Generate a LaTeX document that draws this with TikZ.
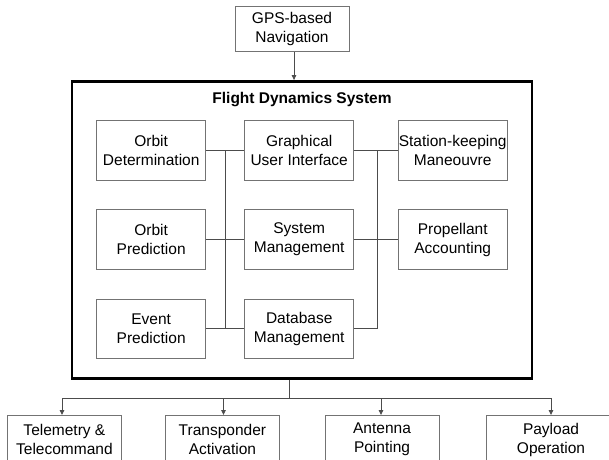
\documentclass[tikz,border=0pt]{standalone}
\usepackage{fontspec}
\setmainfont{Liberation Sans}
\usetikzlibrary{arrows.meta}
\begin{document}
\begin{tikzpicture}[x=1pt,y=-1pt,
  box/.style={draw=black!55,line width=0.9pt,fill=white,minimum width=109pt,minimum height=59.5pt,inner sep=0pt,align=center,font=\fontsize{15.5}{19}\selectfont},
  lowbox/.style={box,minimum width=114pt,minimum height=48pt},
  link/.style={draw=black!70,line width=0.9pt},
  arr/.style={link,-{Triangle[length=5pt,width=4.5pt]}}]
\useasboundingbox (0,0) rectangle (609,459);
% GPS
\node[box,minimum width=114pt,minimum height=45pt] (gps) at (292,29.3) {GPS-based\\Navigation};
% big box
\node[draw=black,line width=2.4pt,minimum width=460pt,minimum height=297pt,inner sep=0pt] (fds) at (301.7,229.8) {};
\node[font=\bfseries\fontsize{15.5}{19}\selectfont,inner sep=0pt] (title) at (302,99.3) {Flight Dynamics System};
\draw[arr] (gps.south -| 294,0) -- (fds.north -| 294,0);
% inner boxes
\node[box] (od) at (151.2,150.5) {Orbit\\Determination};
\node[box] (gui) at (299.2,150.5) {Graphical\\User Interface};
\node[box] (sk) at (452.7,150.5) {Station-keeping\\Maneouvre};
\node[box] (op) at (151.2,239.5) {Orbit\\Prediction};
\node[box] (sm) at (299.2,239.5) {System\\Management};
\node[box] (pa) at (452.7,239.5) {Propellant\\Accounting};
\node[box] (ep) at (151.2,328.7) {Event\\Prediction};
\node[box] (db) at (299.2,328.7) {Database\\Management};
\coordinate (lt) at (225,150.5);
\coordinate (lb) at (225,328.7);
\coordinate (rt) at (377.7,150.5);
\coordinate (rb) at (377.7,328.7);
\draw[link] (od) -- (gui);
\draw[link] (op) -- (sm);
\draw[link] (ep) -- (db);
\draw[link] (gui) -- (sk);
\draw[link] (sm) -- (pa);
\draw[link] (db.east) -- (rb);
\draw[link] (lt) -- (lb);
\draw[link] (rt) -- (rb);
% bottom boxes
\node[lowbox] (tt) at (64.4,439.5) {Telemetry \&\\Telecommand};
\node[lowbox] (ta) at (222.4,439.5) {Transponder\\Activation};
\node[lowbox] (ap) at (382,439.5) {Antenna\\Pointing};
\node[lowbox,minimum width=130pt] (po) at (551,439.5) {Payload\\Operation};
\coordinate (stem) at (289.5,398);
\coordinate (hl) at (62,398);
\coordinate (hr) at (551,398);
\draw[link] (fds.south -| stem) -- (stem);
\draw[link] (hl) -- (hr);
\draw[arr] (hl) -- (tt.north -| hl);
\draw[arr] (223.5,398) -- (ta.north -| 223.5,0);
\draw[arr] (381,398) -- (ap.north -| 381,0);
\draw[arr] (hr) -- (po.north);
\end{tikzpicture}
\end{document}
